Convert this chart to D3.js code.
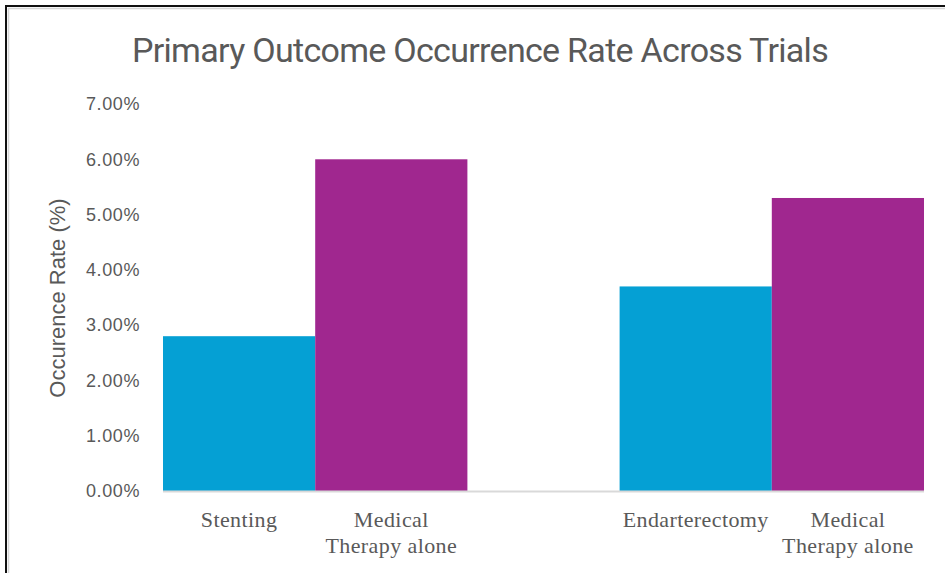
<!DOCTYPE html>
<html>
<head>
<meta charset="utf-8">
<script src="https://cdn.jsdelivr.net/npm/d3@7"></script>
<style>
  html, body { margin: 0; padding: 0; background: #fff; }
  svg { display: block; }
</style>
</head>
<body>
<div id="chart"></div>
<script>

	/* - - - DATA - - - */

	var trials = ['Stenting trial', 'Endarterectomy trial'];
	var barLabels = [['Stenting', 'Medical Therapy alone'], ['Endarterectomy', 'Medical Therapy alone']];
	var procedureValues = [2.8, 3.7];
	var medicalValues = [6.0, 5.3];
	var yTicks = [0, 1, 2, 3, 4, 5, 6, 7];

	/* - - - END DATA - - - */

	var svgWidth = 945;
	var svgHeight = 573;
	var margin = { left: 163, right: 21, top: 104, bottom: 82 };
	var plotW = svgWidth - margin.left - margin.right;
	var plotH = svgHeight - margin.top - margin.bottom;
	var textGray = '#595959';
	var colors = ['#05a0d4', '#a0278f'];

	var svg = d3.select('#chart')
				.append('svg')
				.attr('width', svgWidth)
				.attr('height', svgHeight);

	// frame, only top and left edges are visible in the picture
	svg.append('path')
	   .attr('d', 'M6,573V6H945')
	   .attr('fill', 'none')
	   .attr('stroke', '#111')
	   .attr('stroke-width', 2);
	svg.append('path')
	   .attr('d', 'M8.5,573V8.5H945')
	   .attr('fill', 'none')
	   .attr('stroke', '#d6d6d6')
	   .attr('stroke-width', 1.5);

	var titleText = 'Primary Outcome Occurrence Rate Across Trials';
	var title = svg.append('text')
	   .attr('x', 480)
	   .attr('y', 62)
	   .attr('text-anchor', 'middle')
	   .attr('fill', textGray)
	   .style('font-family', 'Roboto, "Noto Sans", sans-serif')
	   .style('font-size', '34px')
	   .text(titleText);
	// tighten the letters so the title keeps the width it has in the picture
	var tw = title.node().getComputedTextLength();
	title.style('letter-spacing', ((696 - tw) / titleText.length) + 'px');

	var g = svg.append('g')
			   .attr('transform', 'translate(' + margin.left + ',' + margin.top + ')');

	var x0 = d3.scaleBand()
			   .domain(trials)
			   .range([0, plotW])
			   .paddingInner(1 / 3)
			   .paddingOuter(0);

	var x1 = d3.scaleBand()
			   .domain([0, 1])
			   .range([0, x0.bandwidth()]);

	var y = d3.scaleLinear()
			  .domain([0, 7])
			  .range([plotH, 0]);

	// y axis labels, no line and no ticks
	var yAxis = d3.axisLeft(y)
				  .tickValues(yTicks)
				  .tickSize(0)
				  .tickPadding(23)
				  .tickFormat(function (d) { return d.toFixed(2) + '%'; });
	var yg = g.append('g').call(yAxis);
	yg.select('.domain').remove();
	yg.selectAll('text')
	  .attr('fill', textGray)
	  .style('font-family', '"Liberation Sans", Arial, sans-serif')
	  .style('font-size', '18px')
	  .style('letter-spacing', '0.6px');

	var groups = g.selectAll('.trial')
				  .data(trials)
				  .enter()
				  .append('g')
				  .attr('class', 'trial')
				  .attr('transform', function (d) { return 'translate(' + x0(d) + ',0)'; });

	groups.selectAll('rect')
		  .data(function (d, i) { return [procedureValues[i], medicalValues[i]]; })
		  .enter()
		  .append('rect')
		  .attr('x', function (d, j) { return x1(j); })
		  .attr('width', x1.bandwidth())
		  .attr('y', function (d) { return y(d); })
		  .attr('height', function (d) { return plotH - y(d); })
		  .attr('fill', function (d, j) { return colors[j]; });

	// baseline
	g.append('line')
	 .attr('x1', 0)
	 .attr('x2', plotW)
	 .attr('y1', plotH + 0.5)
	 .attr('y2', plotH + 0.5)
	 .attr('stroke', '#d9d9d9')
	 .attr('stroke-width', 2);

	// category labels under each bar
	groups.selectAll('.lbl')
		  .data(function (d, i) { return barLabels[i]; })
		  .enter()
		  .append('text')
		  .attr('class', 'lbl')
		  .attr('text-anchor', 'middle')
		  .attr('fill', textGray)
		  .style('font-family', '"Liberation Serif", "Times New Roman", serif')
		  .style('font-size', '22px')
		  .style('letter-spacing', '0.4px')
		  .each(function (d, j) {
		  		var words = d === 'Medical Therapy alone' ? ['Medical', 'Therapy alone'] : [d];
		  		var t = d3.select(this);
		  		words.forEach(function (w, k) {
		  			t.append('tspan')
		  			 .attr('x', x1(j) + x1.bandwidth() / 2)
		  			 .attr('y', plotH + 36 + k * 26)
		  			 .text(w);
		  		});
		  });

	// y axis title
	svg.append('text')
	   .attr('transform', 'translate(65,298) rotate(-90)')
	   .attr('text-anchor', 'middle')
	   .attr('fill', textGray)
	   .style('font-family', '"Liberation Sans", Arial, sans-serif')
	   .style('font-size', '22px')
	   .text('Occurence Rate (%)');

</script>
</body>
</html>
